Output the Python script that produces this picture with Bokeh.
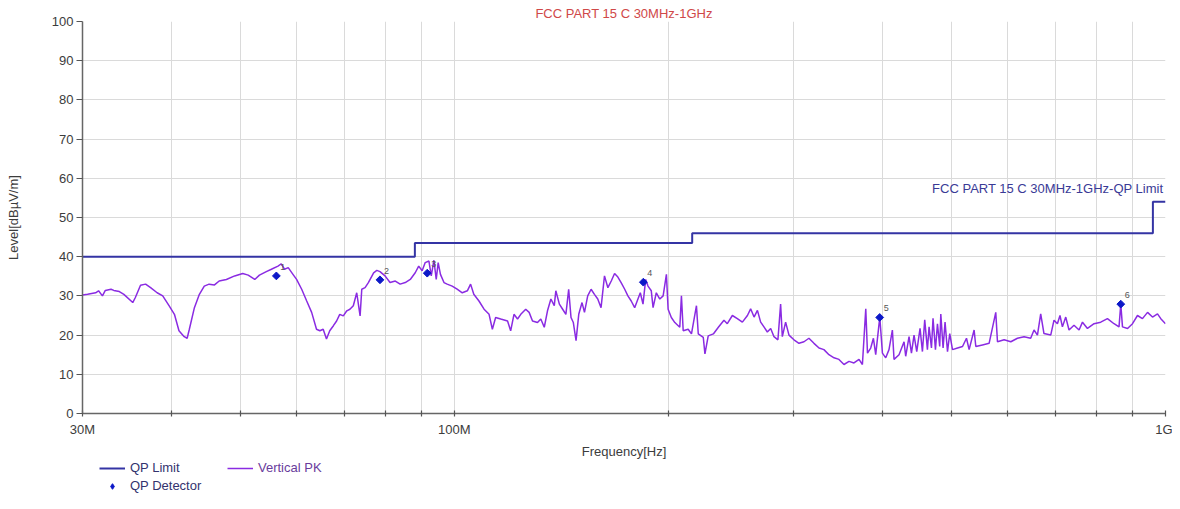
import math
from bokeh.plotting import figure
from bokeh.layouts import column
from bokeh.models import (ColumnDataSource, FixedTicker, CustomJSTickFormatter, Label,
                          Legend, LegendItem, Range1d)
from bokeh.embed import file_html
from bokeh.resources import INLINE
from bokeh.core.properties import value

# ---------------- data ----------------
title_text = "FCC PART 15 C 30MHz-1GHz"
limit_name = "FCC PART 15 C 30MHz-1GHz-QP Limit"
x_title = "Frequency[Hz]"
y_title = "Level[dBµV/m]"
legend_names = ["QP Limit", "Vertical PK", "QP Detector"]

# QP limit (step, MHz / dBuV/m)
limit_freq = [30, 88, 216, 960, 1000]
limit_level = [40, 43.5, 46, 54, 54]

# Vertical PK trace (MHz / dBuV/m)
pk_freq = [
    30.0, 30.5, 31.3, 31.6, 32.0, 32.3, 32.9, 33.2, 33.8, 34.3, 35.3, 35.6, 36.2, 36.8, 37.4,
    38.2, 38.9, 39.7, 40.4, 41.0, 41.7, 42.1, 42.4, 43.1, 43.8, 44.5, 45.2, 46.0, 46.7, 47.8,
    49.1, 50.4, 51.3, 52.4, 53.2, 54.4, 55.3, 56.5, 57.1, 57.7, 58.4, 59.3,
    60.0, 61.0, 62.0, 63.0, 64.0, 64.7, 65.4, 66.1, 66.8, 67.6, 68.3, 69.0, 69.8, 70.6, 71.3,
    72.1, 72.9, 73.7, 74.1, 74.9, 75.7, 77.0, 77.8, 78.6, 79.9, 81.2, 82.6, 83.9, 85.3, 86.7,
    88.1, 89.1, 90.1, 91.0, 92.1, 92.8, 93.6, 94.3, 94.9, 95.6, 96.7, 97.7, 99.3, 100.9, 102.6,
    104.3, 105.4, 106.5, 108.3, 110.1, 111.9, 113.1, 114.3, 116.2,
    118.8, 120.0, 121.3, 122.7, 124.0, 126.0, 127.4, 128.8, 130.9, 132.3, 133.8, 135.2, 136.7,
    138.2, 138.9, 140.5, 142.0, 143.5, 144.8, 145.9, 147.0, 148.3, 149.6, 151.2, 152.4, 154.0,
    155.7, 157.4, 159.1, 160.8, 162.6, 164.4, 166.2, 168.0, 169.8, 171.6, 173.6, 175.4, 177.3,
    179.3, 181.2, 182.6, 184.2, 185.8, 187.2, 189.2, 190.3, 192.3, 194.5, 196.6, 198.7, 199.8,
    201.9, 204.2, 207.5, 208.6, 209.8, 213.2, 215.5, 219.0, 220.3, 223.9, 225.1, 227.5, 231.3,
    235.1,
    239.4, 242.0, 246.0, 250.0, 254.1, 258.3, 261.0, 263.9, 266.8, 269.6, 272.5, 275.5, 278.5,
    281.5, 285.1, 287.6, 289.2, 292.3, 295.5, 300.3, 305.2, 310.2, 315.2, 320.4, 325.7, 330.9,
    336.3, 341.9, 347.4, 353.1, 358.9, 364.7, 370.7, 374.8, 378.9, 381.0, 385.0, 388.4, 391.3,
    396.5, 399.9, 404.2, 408.5, 413.0, 415.2, 422.0,
    428.9, 431.2, 435.9, 439.3, 443.0, 446.9, 451.7, 455.2, 458.6, 462.6, 465.1, 468.7, 471.1,
    474.8, 477.9, 481.4, 483.1, 486.7, 489.8, 493.7, 497.3, 501.7, 510.0, 518.3, 525.0, 529.5,
    538.1, 541.1, 552.9, 564.9, 577.2, 580.4, 593.0, 606.0, 619.2, 632.6, 646.3, 653.3, 660.6,
    667.6, 674.7, 689.6, 697.0, 704.7, 710.6, 716.2, 724.0, 731.7, 743.6, 755.9, 764.3, 776.7,
    793.5, 810.8, 828.6, 846.5, 860.3, 865.2, 870.0, 884.4, 898.7, 913.3, 928.1, 943.5, 958.8,
    974.4, 984.9, 1000.0,
]
pk_level = [
    30.2, 30.4, 30.8, 31.3, 30.0, 31.4, 31.7, 31.4, 31.1, 30.4, 28.3, 29.6, 32.7, 33.0, 32.1,
    30.8, 30.0, 27.5, 25.3, 21.1, 19.6, 19.2, 21.5, 27.0, 30.4, 32.5, 33.0, 32.8, 33.8, 34.2,
    35.1, 35.7, 35.3, 34.2, 35.3, 36.2, 36.8, 37.6, 38.2, 36.8, 37.2, 35.5,
    34.2, 31.7, 28.7, 25.8, 21.5, 21.1, 21.5, 19.0, 21.1, 22.4, 23.6, 25.3, 24.9, 26.2, 26.6,
    27.5, 30.8, 24.9, 31.7, 32.1, 33.4, 35.9, 36.5, 36.2, 35.1, 33.4, 33.8, 33.0, 33.4, 34.2,
    35.9, 37.6, 36.4, 38.5, 38.9, 35.1, 39.1, 34.2, 38.5, 35.5, 33.4, 33.0, 32.5, 31.7, 30.8,
    31.3, 33.0, 30.4, 28.7, 26.6, 25.3, 21.5, 24.5, 24.1,
    23.6, 21.1, 25.3, 24.1, 25.3, 26.6, 25.8, 23.6, 23.2, 24.1, 22.0, 26.2, 29.2,
    27.5, 31.3, 27.9, 26.6, 25.3, 31.7, 24.5, 23.2, 18.6, 25.3, 28.3, 25.8, 30.0,
    31.7, 30.4, 29.2, 27.0, 35.1, 32.1, 33.8, 35.7, 34.8, 33.4, 31.7, 30.0, 28.7,
    27.0, 29.2, 30.8, 27.9, 34.2, 32.5, 31.3, 27.0, 30.8, 29.2, 30.0, 35.5, 26.6,
    24.5, 23.2, 22.0, 30.0, 21.1, 21.5, 20.3, 27.5, 20.3, 19.4, 15.2, 19.8, 20.3,
    22.0,
    23.8, 22.9, 25.0, 24.2, 23.3, 25.0, 26.7, 24.6, 26.3, 23.3, 22.1, 20.8, 21.7,
    19.6, 18.8, 27.9, 19.6, 23.3, 20.0, 18.8, 17.9, 18.3, 19.2, 17.9, 16.7, 16.3,
    15.0, 14.2, 13.8, 12.5, 13.3, 12.9, 13.8, 12.5, 26.7, 15.4, 16.7, 19.2, 15.0,
    24.6, 15.4, 14.2, 16.3, 21.3, 13.8, 15.0,
    18.3, 14.6, 19.6, 15.4, 20.0, 15.8, 21.7, 15.8, 23.9, 16.3, 22.1, 16.7, 24.3,
    16.3, 22.9, 17.1, 25.4, 16.7, 23.3, 15.8, 20.4, 16.3, 16.7, 17.1, 19.2, 16.3,
    21.3, 17.1, 17.5, 17.9, 25.8, 18.3, 18.8, 18.3, 19.2, 19.6, 19.2, 21.3, 20.0,
    25.4, 20.4, 20.0, 23.8, 22.9, 25.0, 22.1, 24.6, 21.3, 22.5, 21.3, 23.3, 21.7,
    22.9, 23.3, 24.2, 22.9, 22.1, 27.9, 22.1, 21.7, 22.9, 25.0, 24.2, 25.8, 24.6,
    25.4, 24.2, 22.9,
]

# QP detector readings
qp_freq = [56.2, 78.6, 91.6, 184.4, 396.4, 865.2]
qp_level = [35.1, 34.1, 35.8, 33.5, 24.5, 27.9]
qp_labels = ["1", "2", "3", "4", "5", "6"]

# axis ticks
x_ticks = [30, 40, 50, 60, 70, 80, 90, 100, 200, 300, 400, 500, 600, 700, 800, 900, 1000]
x_label_ticks = [30, 100, 1000]
x_label_texts = ["30M", "100M", "1G"]
y_ticks = [0, 10, 20, 30, 40, 50, 60, 70, 80, 90, 100]

# ---------------- styles ----------------
FONT = "Liberation Sans"
C_LIMIT = "#3434A4"
C_PK = "#8A2BE2"
C_QP = "#0C18C8"
C_TEXT = "#3C3C3C"
C_GRID = "#DADADA"
W = 1172

p = figure(width=W, height=461, x_axis_type="log",
           x_range=Range1d(30, 1000), y_range=Range1d(0, 100),
           output_backend="svg", toolbar_location=None,
           min_border_left=82, min_border_right=7, min_border_top=21, min_border_bottom=48)
p.outline_line_color = None
p.background_fill_color = "white"
p.border_fill_color = "white"

# title
p.title.text = title_text
p.title.align = "center"
p.title.text_font = FONT
p.title.text_font_size = "13px"
p.title.text_font_style = "normal"
p.title.text_color = "#D04848"
p.title.standoff = 2

# grid
p.xgrid.ticker = FixedTicker(ticks=x_ticks)
p.ygrid.ticker = FixedTicker(ticks=y_ticks)
p.xgrid.grid_line_color = C_GRID
p.ygrid.grid_line_color = C_GRID

# x axis
p.xaxis.ticker = FixedTicker(ticks=x_ticks)
js_map = "{" + ",".join('"%d":"%s"' % (t, s) for t, s in zip(x_label_ticks, x_label_texts)) + "}"
p.xaxis.formatter = CustomJSTickFormatter(code="""
const m = %s;
const k = String(Math.round(tick));
return (k in m) ? m[k] : "";
""" % js_map)
p.xaxis.major_tick_in = 3
p.xaxis.major_tick_out = 3
p.xaxis.minor_tick_line_color = None
p.xaxis.major_label_standoff = 5
p.xaxis.axis_label = x_title
p.xaxis.axis_label_standoff = 4

# y axis
p.yaxis.ticker = FixedTicker(ticks=y_ticks)
p.yaxis.major_tick_in = 0
p.yaxis.major_tick_out = 6
p.yaxis.minor_tick_line_color = None
p.yaxis.major_label_standoff = 3
p.yaxis.axis_label = y_title
p.yaxis.axis_label_standoff = 28

for ax in (p.xaxis, p.yaxis):
    ax.axis_line_color = "#666666"
    ax.axis_line_width = 1.5
    ax.major_tick_line_color = "#555555"
    ax.major_tick_line_width = 1.2
    ax.major_label_text_font = FONT
    ax.major_label_text_font_size = "13px"
    ax.major_label_text_color = C_TEXT
    ax.axis_label_text_font = FONT
    ax.axis_label_text_font_size = "13px"
    ax.axis_label_text_font_style = "normal"
    ax.axis_label_text_color = C_TEXT

# data renderers
src_pk = ColumnDataSource(dict(f=pk_freq, l=pk_level))
src_lim = ColumnDataSource(dict(f=limit_freq, l=limit_level))
src_qp = ColumnDataSource(dict(f=qp_freq, l=qp_level, t=qp_labels))

p.line("f", "l", source=src_pk, line_color=C_PK, line_width=1.5)
p.step("f", "l", source=src_lim, mode="after", line_color=C_LIMIT, line_width=2)
p.scatter("f", "l", source=src_qp, marker="square", angle=math.pi / 4, size=5.5,
          fill_color=C_QP, line_color=C_QP)
p.text("f", "l", text="t", source=src_qp, x_offset=4, y_offset=-9,
       text_font=value(FONT), text_font_size="9px", text_color="#555555",
       text_baseline="middle", text_align="left")

# limit name inside the plot area
p.add_layout(Label(x=1081, y=225, x_units="screen", y_units="screen", text=limit_name,
                   text_align="right", text_baseline="middle", text_font=FONT,
                   text_font_size="13px", text_color="#3A3A96"))

# ---------------- legend strip below ----------------
lg = figure(width=W, height=32, x_range=Range1d(0, 1), y_range=Range1d(0, 1),
            output_backend="svg", toolbar_location=None,
            x_axis_location=None, y_axis_location=None,
            min_border_left=82, min_border_right=7, min_border_top=0, min_border_bottom=0)
lg.outline_line_color = None
lg.xgrid.visible = False
lg.ygrid.visible = False
# legend-only renderers: one sample point placed outside the visible range
offscreen = dict(x=[-5], y=[-5])
k_lim = lg.line("x", "y", source=ColumnDataSource(offscreen), line_color=C_LIMIT, line_width=2)
k_pk = lg.line("x", "y", source=ColumnDataSource(offscreen), line_color=C_PK, line_width=1.5)
k_qp = lg.scatter("x", "y", source=ColumnDataSource(offscreen), marker="diamond",
                  size=8, fill_color=C_QP, line_color=C_QP)

common = dict(border_line_color=None, background_fill_alpha=0, padding=0, margin=0,
              label_standoff=5, glyph_width=26, glyph_height=14, label_height=14,
              label_text_font=FONT, label_text_font_size="13px", orientation="horizontal")
lg.add_layout(Legend(items=[LegendItem(label=legend_names[0], renderers=[k_lim])],
                     location=(17, 18), label_text_color="#33336E", **common), "center")
lg.add_layout(Legend(items=[LegendItem(label=legend_names[1], renderers=[k_pk])],
                     location=(145, 18), label_text_color="#6A3C9C", **common), "center")
lg.add_layout(Legend(items=[LegendItem(label=legend_names[2], renderers=[k_qp])],
                     location=(17, 0), label_text_color="#33336E", **common), "center")

layout = column(p, lg, spacing=0)
open("out.html", "w").write(file_html(layout, INLINE))
